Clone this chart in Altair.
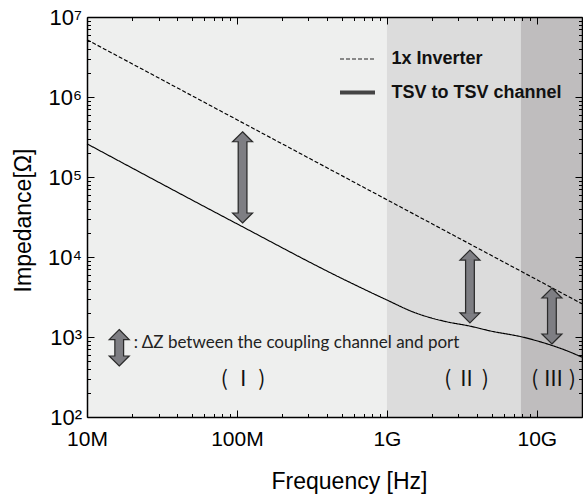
import altair as alt
import pandas as pd

# ---------------- data ----------------
series_names = ["1x Inverter", "TSV to TSV channel"]

freq_inv = [1e7, 1e8, 1e9, 1e10, 2e10]
z_inv = [5.2e6, 5.2e5, 5.2e4, 5.2e3, 2.6e3]

freq_tsv = [1e7, 1e8, 5e8, 1e9, 1.5e9, 2.5e9, 3.5e9, 5e9, 8e9, 1.1e10, 1.5e10, 2e10]
z_tsv = [2.6e5, 2.6e4, 5.4e3, 2.9e3, 2.05e3, 1.55e3, 1.38e3, 1.18e3, 1.0e3, 850, 700, 560]

region_start = [1e7, 1e9, 7.8e9]
region_end = [1e9, 7.8e9, 2e10]
region_colors = ["#eeefee", "#dcdcdc", "#bfbdbe"]
region_labels = ["( Ⅰ )", "( Ⅱ )", "( Ⅲ )"]
region_label_f = [1.1e8, 3.4e9, 1.29e10]
region_label_z = [290, 290, 290]

arrow_f = [1.64e7, 1.09e8, 3.58e9, 1.26e10]
arrow_top = [1240, 3.68e5, 1.22e4, 4.1e3]
arrow_bottom = [434, 2.66e4, 1.5e3, 818]

note_text = [": ΔZ between the coupling channel and port"]
note_f = [2.05e7]
note_z = [729]

x_domain = [1e7, 2e10]
y_domain = [1e2, 1e7]
x_major_labels = ["10M", "100M", "1G", "10G"]
y_major_labels = ["10²", "10³", "10⁴", "10⁵", "10⁶", "10⁷"]

x_ticks = [m * 10.0 ** e for e in range(7, 11) for m in range(1, 10) if m * 10.0 ** e <= x_domain[1]]
y_ticks = [m * 10.0 ** e for e in range(2, 7) for m in range(1, 10)] + [1e7]

# ---------------- tables ----------------
lines_df = pd.concat([
    pd.DataFrame({"f": freq_inv, "z": z_inv, "series": series_names[0]}),
    pd.DataFrame({"f": freq_tsv, "z": z_tsv, "series": series_names[1]}),
])
regions_df = pd.DataFrame({"start": region_start, "end": region_end, "color": region_colors,
                           "ymin": y_domain[0], "ymax": y_domain[1]})
region_text_df = pd.DataFrame({"label": region_labels, "f": region_label_f, "z": region_label_z})
arrows_df = pd.DataFrame({"f": arrow_f, "top": arrow_top, "bottom": arrow_bottom})
note_df = pd.DataFrame({"text": note_text, "f": note_f, "z": note_z})

# ---------------- scales / axes ----------------
xs = alt.Scale(type="log", domain=x_domain, nice=False)
ys = alt.Scale(type="log", domain=y_domain, nice=False)

MAJOR = "abs(log(datum.value)/LN10 - round(log(datum.value)/LN10)) < 0.000001"
TICK = alt.ExprRef(expr=f"({MAJOR}) ? -7 : -3.5")
FONT = "Liberation Sans"

x_lab_arr = "[" + ",".join(f"'{s}'" for s in x_major_labels) + "]"
y_lab_arr = "[" + ",".join(f"'{s}'" for s in y_major_labels) + "]"

common = dict(tickSize=TICK, tickColor="black", tickWidth=1, domainColor="black",
              domainWidth=1.5, grid=False, zindex=1, labelOverlap=False, labelFlush=False)

axis_bottom = alt.Axis(orient="bottom", values=x_ticks,
                       labelExpr=f"({MAJOR}) ? {x_lab_arr}[round(log(datum.value)/LN10)-7] : ''",
                       labelFont=FONT, labelFontSize=21, labelColor="black",
                       labelBaseline="alphabetic", labelPadding=35,
                       titleFont=FONT, titleFontSize=23, titleFontWeight="normal", titleColor="black",
                       titleX=262, titleY=71, titleAlign="center", titleBaseline="alphabetic",
                       **common)
axis_left = alt.Axis(orient="left", values=y_ticks,
                     labelExpr=f"({MAJOR}) ? {y_lab_arr}[round(log(datum.value)/LN10)-2] : ''",
                     labelFont=FONT, labelFontSize=22, labelColor="black",
                     labelBaseline="middle", labelPadding=12.5,
                     titleFont=FONT, titleFontSize=23, titleFontWeight="normal", titleColor="black",
                     titleX=-56.5, titleY=203, titleAngle=270, titleAlign="center",
                     titleBaseline="alphabetic",
                     **common)
axis_top = alt.Axis(orient="top", values=x_ticks, labels=False, **common)
axis_right = alt.Axis(orient="right", values=y_ticks, labels=False, **common)

# ---------------- layers ----------------
bg = alt.Chart(regions_df).mark_rect(strokeWidth=0).encode(
    x=alt.X("start:Q", scale=xs, axis=axis_top, title=None),
    x2="end:Q",
    y=alt.Y("ymin:Q", scale=ys, axis=axis_right, title=None),
    y2="ymax:Q",
    color=alt.Color("color:N", scale=None),
)

lines = alt.Chart(lines_df).mark_line(color="black", strokeWidth=1.15, interpolate="monotone").encode(
    x=alt.X("f:Q", scale=xs, axis=axis_bottom, title="Frequency [Hz]"),
    y=alt.Y("z:Q", scale=ys, axis=axis_left, title="Impedance[Ω]"),
    strokeDash=alt.StrokeDash("series:N", scale=alt.Scale(domain=series_names, range=[[4, 2], [1, 0]]),
                              legend=None),
)


def legend_def():
    return alt.Legend(
        title=None, orient="none", legendX=253, legendY=32.5, padding=0,
        symbolType="M-2,0L2,0", symbolSize=306.25, symbolOpacity=1,
        symbolOffset=6.5, labelOffset=23, rowPadding=13, labelLimit=400,
        labelFont=FONT, labelFontSize=18, labelFontWeight="bold", labelColor="#111111",
    )


# invisible copy of the series that only carries the legend styling
legend_carrier = alt.Chart(lines_df).mark_line(opacity=0).encode(
    x=alt.X("f:Q", scale=xs, axis=None),
    y=alt.Y("z:Q", scale=ys, axis=None),
    strokeDash=alt.StrokeDash("series:N", scale=alt.Scale(domain=series_names, range=[[4, 2], [1, 0]]),
                              legend=legend_def()),
    strokeWidth=alt.StrokeWidth("series:N", scale=alt.Scale(domain=series_names, range=[1.2, 4]),
                                legend=legend_def()),
    color=alt.Color("series:N", scale=alt.Scale(domain=series_names, range=["#222222", "#444444"]),
                    legend=legend_def()),
)

ARROW_FILL = "#7e7e83"
ARROW_EDGE = "#2b2b2b"
ax = alt.X("f:Q", scale=xs, axis=None)
shaft_outer = alt.Chart(arrows_df).mark_rule(color=ARROW_EDGE, strokeWidth=10, strokeCap="butt",
                                             yOffset=10, y2Offset=-10).encode(
    x=ax, y=alt.Y("top:Q", scale=ys, axis=None), y2="bottom:Q")
head_top = alt.Chart(arrows_df).mark_point(shape="M0,0L1,1L-1,1Z", size=400, filled=True,
                                           fill=ARROW_FILL, stroke=ARROW_EDGE, strokeWidth=1.2,
                                           opacity=1).encode(
    x=ax, y=alt.Y("top:Q", scale=ys, axis=None))
head_bottom = alt.Chart(arrows_df).mark_point(shape="M0,0L1,-1L-1,-1Z", size=400, filled=True,
                                              fill=ARROW_FILL, stroke=ARROW_EDGE, strokeWidth=1.2,
                                              opacity=1).encode(
    x=ax, y=alt.Y("bottom:Q", scale=ys, axis=None))
shaft_inner = alt.Chart(arrows_df).mark_rule(color=ARROW_FILL, strokeWidth=7.5, strokeCap="butt",
                                             yOffset=9, y2Offset=-9).encode(
    x=ax, y=alt.Y("top:Q", scale=ys, axis=None), y2="bottom:Q")

region_text = alt.Chart(region_text_df).mark_text(font="Noto Sans CJK JP", fontSize=21, color="#111111",
                                                  align="center", baseline="middle").encode(
    x=ax, y=alt.Y("z:Q", scale=ys, axis=None), text="label:N")

note = alt.Chart(note_df).mark_text(font="Lato", fontSize=17, color="#222222",
                                    align="left", baseline="alphabetic").encode(
    x=ax, y=alt.Y("z:Q", scale=ys, axis=None), text="text:N")

chart = alt.layer(bg, lines, legend_carrier, shaft_outer, head_top, head_bottom, shaft_inner,
                  region_text, note).resolve_axis(
    x="independent", y="independent"
).properties(
    width=495, height=400, autosize="none",
    padding={"left": 87, "top": 17, "right": 1, "bottom": 81},
    background="white",
).configure_view(strokeWidth=0)

chart.save("out.html", embed_options={"renderer": "svg", "actions": False})
